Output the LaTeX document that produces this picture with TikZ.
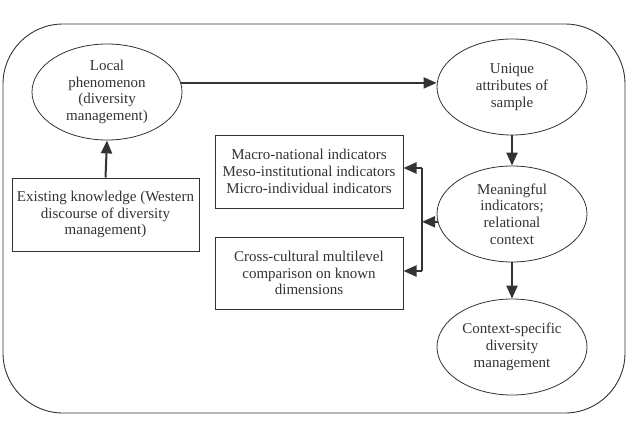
\documentclass[tikz,border=0pt]{standalone}
\usepackage{fontspec}
\setmainfont{Liberation Serif}
\usetikzlibrary{arrows.meta,calc,shapes.geometric}
\definecolor{ink}{HTML}{333333}
\begin{document}
\begin{tikzpicture}[x=1pt,y=-1pt,
  every node/.style={text=ink,font=\fontsize{15}{16.7}\selectfont,align=center},
  ell/.style={draw=ink,line width=0.8pt,ellipse,minimum width=150pt,minimum height=96pt,inner sep=0pt},
  rbox/.style={draw=ink,line width=1pt,rectangle,inner sep=0pt},
  arr/.style={draw=ink,line width=2pt,-{Triangle[length=13pt,width=11pt]}},
  link/.style={draw=ink,line width=2pt}]
\useasboundingbox (0,0) rectangle (627,432);
\draw[ink,line width=0.9pt,rounded corners=60pt] (3,24) rectangle (625,413);
\node[ell] (loc) at (107,92) {Local\\phenomenon\\(diversity\\management)};
\node[ell] (uni) at (512,87) {Unique\\attributes of\\sample};
\node[ell] (mea) at (512,214) {Meaningful\\indicators;\\relational\\context};
\node[ell] (ctx) at (512,347) {Context-specific\\diversity\\management};
\node[rbox,minimum width=187pt,minimum height=73pt] (exk) at (105.5,214.5) {Existing knowledge (Western\\discourse of diversity\\management)};
\node[rbox,minimum width=188pt,minimum height=73pt] (mac) at (309,171.5) {Macro-national indicators\\Meso-institutional indicators\\Micro-individual indicators};
\node[rbox,minimum width=188pt,minimum height=72pt] (cro) at (309,273) {Cross-cultural multilevel\\comparison on known\\dimensions};
\coordinate (bt) at (422,168);
\coordinate (bb) at (422,271);
\draw[arr] (exk.north) -- (loc.south);
\draw[arr] (loc.7.8) -- (loc.7.8 -| uni.west);
\draw[arr] (uni.south) -- (mea.north);
\draw[arr] (mea.south) -- (ctx.north);
\draw[link] (bt) -- (bb);
\draw[arr] (mea.186) -- (mea.186 -| bt);
\draw[arr] (bt) -- (bt -| mac.east);
\draw[arr] (bb) -- (bb -| cro.east);
\end{tikzpicture}
\end{document}
